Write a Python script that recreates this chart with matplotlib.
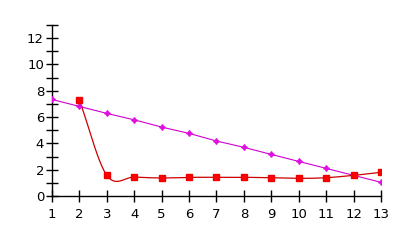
import numpy as np
import matplotlib
matplotlib.use("Agg")
import matplotlib.pyplot as plt

# Data
x_magenta = [1, 2, 3, 4, 5, 6, 7, 8, 9, 10, 11, 12, 13]
y_magenta = [7.34, 6.81, 6.28, 5.79, 5.24, 4.76, 4.18, 3.70, 3.16, 2.63, 2.10, 1.57, 1.04]
x_red = [2, 3, 4, 5, 6, 7, 8, 9, 10, 11, 12, 13]
y_red = [7.29, 1.57, 1.44, 1.37, 1.42, 1.42, 1.42, 1.39, 1.34, 1.39, 1.57, 1.80]
x_ticks = list(range(1, 14))
y_tick_labels = [0, 2, 4, 6, 8, 10, 12]


def catmull_rom(xs, ys, n=30):
    xs = np.asarray(xs, float)
    ys = np.asarray(ys, float)
    k = len(xs)
    m = np.zeros(k)
    for i in range(k):
        if i == 0:
            m[i] = (ys[1] - ys[0]) / (xs[1] - xs[0])
        elif i == k - 1:
            m[i] = (ys[-1] - ys[-2]) / (xs[-1] - xs[-2])
        else:
            m[i] = (ys[i + 1] - ys[i - 1]) / (xs[i + 1] - xs[i - 1])
    ox, oy = [], []
    for i in range(k - 1):
        h = xs[i + 1] - xs[i]
        t = np.linspace(0, 1, n, endpoint=(i == k - 2))
        h00 = 2 * t**3 - 3 * t**2 + 1
        h10 = t**3 - 2 * t**2 + t
        h01 = -2 * t**3 + 3 * t**2
        h11 = t**3 - t**2
        ox.append(xs[i] + t * h)
        oy.append(h00 * ys[i] + h10 * h * m[i] + h01 * ys[i + 1] + h11 * h * m[i + 1])
    return np.concatenate(ox), np.concatenate(oy)


plt.rcParams['font.family'] = ['DejaVu Sans']
fig = plt.figure(figsize=(4.06, 2.43), dpi=100)
W, H = 406, 243
ax = fig.add_axes([52 / W, (H - 196) / H, (381 - 52) / W, (196 - 25) / H])

# magenta series
ax.plot(x_magenta, y_magenta, color='#D000D0', lw=0.8, zorder=2)
ax.plot(x_magenta, y_magenta, ls='none', marker=(4, 1, 0), ms=4.2,
        color='#E010E0', mec='#E010E0', zorder=3)

# red series (smoothed)
sx, sy = catmull_rom(x_red, y_red)
ax.plot(sx, sy, color='#CC0000', lw=0.9, zorder=2)
ax.plot(x_red, y_red, ls='none', marker='s', ms=4.3, color='#FF0000',
        mec='#EE0000', zorder=3)

ax.set_xlim(1, 13)
ax.set_ylim(0, 13)
for s in ['top', 'right']:
    ax.spines[s].set_visible(False)
for s in ['left', 'bottom']:
    ax.spines[s].set_color('black')
    ax.spines[s].set_linewidth(1.0)

ax.set_xticks(x_ticks)
ax.set_xticklabels([str(v) for v in x_ticks])
yt = list(range(0, 14))
ax.set_yticks(yt)
ax.set_yticklabels([str(v) if v in y_tick_labels else '' for v in yt])
ax.tick_params(axis='both', direction='inout', length=8.5, width=1.0,
               colors='black', labelsize=9.5)
ax.tick_params(axis='x', pad=4.5)
ax.tick_params(axis='y', pad=1.5)

fig.savefig('out.png', dpi=100)
